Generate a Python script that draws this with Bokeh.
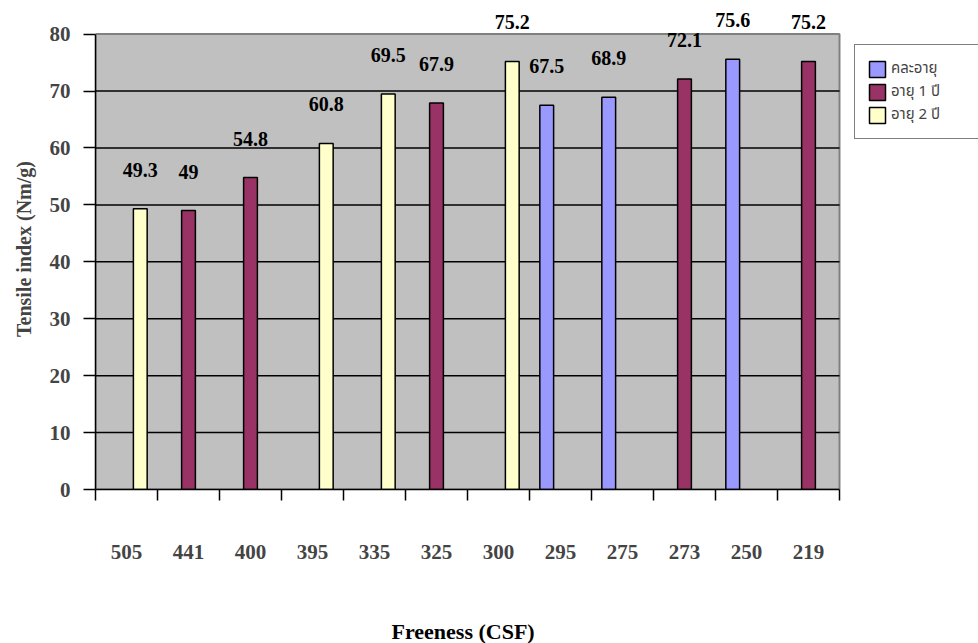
import numpy as np
from bokeh.plotting import figure
from bokeh.models import (Range1d, FixedTicker, ColumnDataSource, LabelSet,
                          Legend, LegendItem, Title)
from bokeh.embed import file_html
from bokeh.resources import INLINE

# ---- data ----
freeness = ["505", "441", "400", "395", "335", "325", "300", "295", "275", "273", "250", "219"]
series_names = ["คละอายุ", "อายุ 1 ปี", "อายุ 2 ปี"]
mixed_age = [None, None, None, None, None, None, None, 67.5, 68.9, None, 75.6, None]
age_1yr = [None, 49, 54.8, None, None, 67.9, None, None, None, 72.1, None, 75.2]
age_2yr = [49.3, None, None, 60.8, 69.5, None, 75.2, None, None, None, None, None]
colors = ["#9999FF", "#993366", "#FFFFCC"]
y_ticks = [0, 10, 20, 30, 40, 50, 60, 70, 80]

SERIF = "Liberation Serif"
THAI = "Noto Sans Thai, Noto Serif Thai, Noto Sans, DejaVu Sans"

W, H = 978, 643
LEFT, TOP, BOTTOM = 95, 8, 154
AREA_RIGHT = 839  # right edge of the grey plot area (px)
FW, FH = W - LEFT, H - TOP - BOTTOM

n = len(freeness)
y_max = y_ticks[-1]
centers = [i + 0.5 for i in range(n)]
bounds = [float(i) for i in range(n + 1)]
bar_w = 1 / 4.5
offsets = [-bar_w, 0.0, bar_w]

x_end = n * FW / (AREA_RIGHT - LEFT)
p = figure(width=W, height=H, frame_width=FW, frame_height=FH,
           output_backend="svg", toolbar_location=None,
           x_range=Range1d(0, x_end), y_range=Range1d(0, 84.5),
           min_border_left=LEFT, min_border_right=0, min_border_top=TOP,
           min_border_bottom=BOTTOM)
p.background_fill_color = "white"
p.border_fill_color = "white"
p.outline_line_color = None

# grey plot area
p.quad(left=[0], right=[n], bottom=[0], top=[y_max], fill_color="#C0C0C0",
       line_color="#808080", line_width=2, level="image")

# horizontal gridlines limited to the plot area
p.xgrid.grid_line_color = None
p.ygrid.grid_line_color = None
gy = y_ticks[1:-1]
p.segment(x0=[0] * len(gy), x1=[n] * len(gy), y0=gy, y1=gy,
          line_color="black", line_width=1.5, level="underlay")

items = []
for name, vals, col, off in zip(series_names, [mixed_age, age_1yr, age_2yr], colors, offsets):
    xs = [c + off for c, v in zip(centers, vals) if v is not None]
    ys = [v for v in vals if v is not None]
    txt = [("%g" % v) for v in ys]
    src = ColumnDataSource(dict(x=xs, top=ys, txt=txt))
    r = p.vbar(x="x", top="top", bottom=0, width=bar_w, source=src,
               fill_color=col, line_color="black", line_width=1.5)
    items.append(LegendItem(label=name, renderers=[r]))
    lbl = LabelSet(x="x", y="top", text="txt", source=src, y_offset=39,
                   text_align="center", text_baseline="middle",
                   text_font=SERIF, text_font_style="bold", text_font_size="20px",
                   text_color="black")
    p.add_layout(lbl)

# x axis
xa = p.xaxis[0]
xa.ticker = FixedTicker(ticks=centers, minor_ticks=bounds)
xa.bounds = (0, n)
xa.major_label_overrides = {c: f for c, f in zip(centers, freeness)}
xa.major_tick_line_color = None
xa.major_tick_out = 0
xa.major_tick_in = 0
xa.minor_tick_line_color = "black"
xa.minor_tick_line_width = 1.5
xa.minor_tick_out = 11
xa.minor_tick_in = 0
xa.major_label_standoff = 44
xa.major_label_text_font = SERIF
xa.major_label_text_font_style = "bold"
xa.major_label_text_font_size = "21px"
xa.axis_line_color = "black"
xa.axis_line_width = 1.5

# x-axis title, centred under the grey plot area
xtitle = Title(text="Freeness (CSF)", align="left", offset=296, standoff=110,
               text_font=SERIF, text_font_style="bold", text_font_size="22px",
               text_color="black")
p.add_layout(xtitle, "below")

# y axis
ya = p.yaxis[0]
ya.ticker = FixedTicker(ticks=y_ticks)
ya.bounds = (0, y_max)
ya.minor_tick_line_color = None
ya.major_tick_line_color = "black"
ya.major_tick_line_width = 1.5
ya.major_tick_out = 12
ya.major_tick_in = 0
ya.major_label_standoff = 13
ya.major_label_text_font = SERIF
ya.major_label_text_font_style = "bold"
ya.major_label_text_font_size = "21px"
ya.axis_label = "Tensile index (Nm/g)"
ya.axis_label_text_font = SERIF
ya.axis_label_text_font_style = "bold"
ya.axis_label_text_font_size = "20px"
ya.axis_label_standoff = 12
ya.axis_line_color = "black"
ya.axis_line_width = 1.5

legend = Legend(items=items, location=(AREA_RIGHT + 15 - LEFT, FH + TOP - 139),
                orientation="vertical",
                padding=12, spacing=0, margin=0,
                glyph_width=20, glyph_height=20, label_standoff=4,
                label_width=75, label_height=20,
                label_text_font=THAI, label_text_font_size="15px",
                border_line_color="black", border_line_width=1.5,
                background_fill_color="white", background_fill_alpha=1.0)
p.add_layout(legend)

open("out.html", "w").write(file_html(p, INLINE))
